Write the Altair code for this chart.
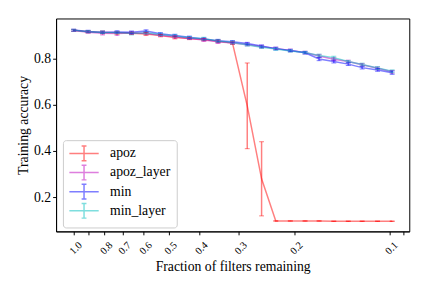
import altair as alt
import pandas as pd

methods = ["apoz", "apoz_layer", "min", "min_layer"]
colors = ["#ff0000", "#bf00bf", "#0000ff", "#00bfbf"]

frac = [1.0, 0.9, 0.81, 0.729, 0.656, 0.59, 0.531, 0.478, 0.43, 0.387, 0.349, 0.314,
        0.282, 0.254, 0.229, 0.206, 0.185, 0.167, 0.15, 0.135, 0.122, 0.109, 0.098]

apoz = [0.921, 0.915, 0.912, 0.910, 0.908, 0.905, 0.898, 0.890, 0.886, 0.881, 0.874, 0.866,
        0.595, 0.280, 0.098, 0.098, 0.098, 0.098, 0.097, 0.097, 0.097, 0.097, 0.097]
apoz_err = [0.004, 0.005, 0.006, 0.006, 0.005, 0.006, 0.005, 0.006, 0.005, 0.005, 0.006, 0.006,
            0.185, 0.160, 0.001, 0.001, 0.001, 0.001, 0.001, 0.001, 0.001, 0.001, 0.001]

apoz_layer = [0.920, 0.913, 0.908, 0.907, 0.909, 0.908, 0.900, 0.893, 0.886, 0.879, 0.871, 0.866,
              0.860, 0.850, 0.843, 0.834, 0.825, 0.810, 0.796, 0.786, 0.772, 0.757, 0.742]
apoz_layer_err = [0.004, 0.005, 0.007, 0.009, 0.006, 0.006, 0.005, 0.006, 0.005, 0.006, 0.007, 0.005,
                  0.006, 0.006, 0.005, 0.006, 0.006, 0.007, 0.006, 0.006, 0.006, 0.006, 0.006]

min_ = [0.922, 0.916, 0.913, 0.914, 0.913, 0.918, 0.906, 0.899, 0.891, 0.884, 0.876, 0.872,
        0.864, 0.853, 0.842, 0.834, 0.824, 0.797, 0.786, 0.775, 0.760, 0.750, 0.738]
min_err = [0.004, 0.005, 0.005, 0.005, 0.005, 0.005, 0.005, 0.005, 0.005, 0.005, 0.006, 0.005,
           0.005, 0.005, 0.006, 0.005, 0.005, 0.007, 0.006, 0.006, 0.006, 0.006, 0.007]

min_layer = [0.921, 0.915, 0.912, 0.911, 0.907, 0.910, 0.903, 0.897, 0.889, 0.885, 0.875, 0.868,
             0.858, 0.848, 0.840, 0.832, 0.825, 0.812, 0.803, 0.786, 0.773, 0.758, 0.744]
min_layer_err = [0.004, 0.005, 0.005, 0.005, 0.006, 0.005, 0.005, 0.005, 0.005, 0.006, 0.005, 0.006,
                 0.005, 0.005, 0.005, 0.005, 0.005, 0.006, 0.006, 0.005, 0.006, 0.006, 0.006]

x_ticks = [1.0, 0.9, 0.8, 0.7, 0.6, 0.5, 0.4, 0.3, 0.2, 0.1, 0.09]
y_ticks = [0.2, 0.4, 0.6, 0.8]

series = {"apoz": (apoz, apoz_err), "apoz_layer": (apoz_layer, apoz_layer_err),
          "min": (min_, min_err), "min_layer": (min_layer, min_layer_err)}
rows = []
for order, m in enumerate(methods):
    vals, errs = series[m]
    for f, v, e in zip(frac, vals, errs):
        rows.append({"method": m, "order": order, "frac": f, "acc": v,
                     "lo": v - e, "hi": v + e})
df = pd.DataFrame(rows)

FONT = "Liberation Serif"
xscale = alt.Scale(type="log", domain=[0.0865, 1.137], reverse=True, nice=False)
yscale = alt.Scale(domain=[0.053, 0.972], nice=False, zero=False)
cscale = alt.Scale(domain=methods, range=colors)

xaxis = alt.Axis(values=x_ticks, labelAngle=-45, labelFontSize=10.5, labelFont=FONT,
                 labelPadding=5, labelOffset=3,
                 labelExpr="datum.value < 0.095 ? '' : format(datum.value, '.1f')",
                 title="Fraction of filters remaining", titlePadding=4)
yaxis = alt.Axis(values=y_ticks, format=".1f", title="Training accuracy", titlePadding=3,
                 labelFont=FONT, labelFontSize=14)

legend = alt.Legend(
    title=None, orient="none", legendX=7, legendY=124,
    symbolType="M-2.3,0L2.3,0M0,-1.15L0,1.15M-0.38,-1.15L0.38,-1.15M-0.38,1.15L0.38,1.15",
    symbolSize=169, symbolStrokeWidth=1.5, symbolOpacity=0.5,
    symbolOffset=8, labelOffset=19, padding=6, rowPadding=-1.5,
    strokeColor="#cccccc", cornerRadius=3, fillColor="white",
    labelFont=FONT, labelFontSize=14, labelColor="black", labelLimit=200,
)

base = alt.Chart(df)
lines = base.mark_line(strokeWidth=1.5, opacity=0.5).encode(
    x=alt.X("frac:Q", scale=xscale, axis=xaxis),
    y=alt.Y("acc:Q", scale=yscale, axis=yaxis),
    color=alt.Color("method:N", scale=cscale, legend=legend, sort=methods),
    detail="method:N",
)
rules = base.mark_rule(strokeWidth=1.5, opacity=0.5).encode(
    x="frac:Q", y="lo:Q", y2="hi:Q",
    color=alt.Color("method:N", scale=cscale, legend=None),
)
caps_lo = base.mark_tick(orient="horizontal", size=5, thickness=1, opacity=0.5).encode(
    x="frac:Q", y="lo:Q", color=alt.Color("method:N", scale=cscale, legend=None),
)
caps_hi = base.mark_tick(orient="horizontal", size=5, thickness=1, opacity=0.5).encode(
    x="frac:Q", y="hi:Q", color=alt.Color("method:N", scale=cscale, legend=None),
)

chart = alt.layer(lines, rules, caps_lo, caps_hi).properties(
    width=360, height=217, autosize="none",
    padding={"left": 49, "top": 8, "right": 15, "bottom": 55},
).configure(font=FONT).configure_view(stroke="black", strokeWidth=1).configure_axis(
    labelFont=FONT, titleFont=FONT, titleFontSize=14,
    titleFontWeight="normal", labelColor="black", titleColor="black",
    tickColor="black", domainColor="black", tickSize=3.5, grid=False,
    domainWidth=1, tickWidth=1,
).configure_legend(labelFont=FONT)

chart.save("out.html", embed_options={"renderer": "svg", "actions": False})
